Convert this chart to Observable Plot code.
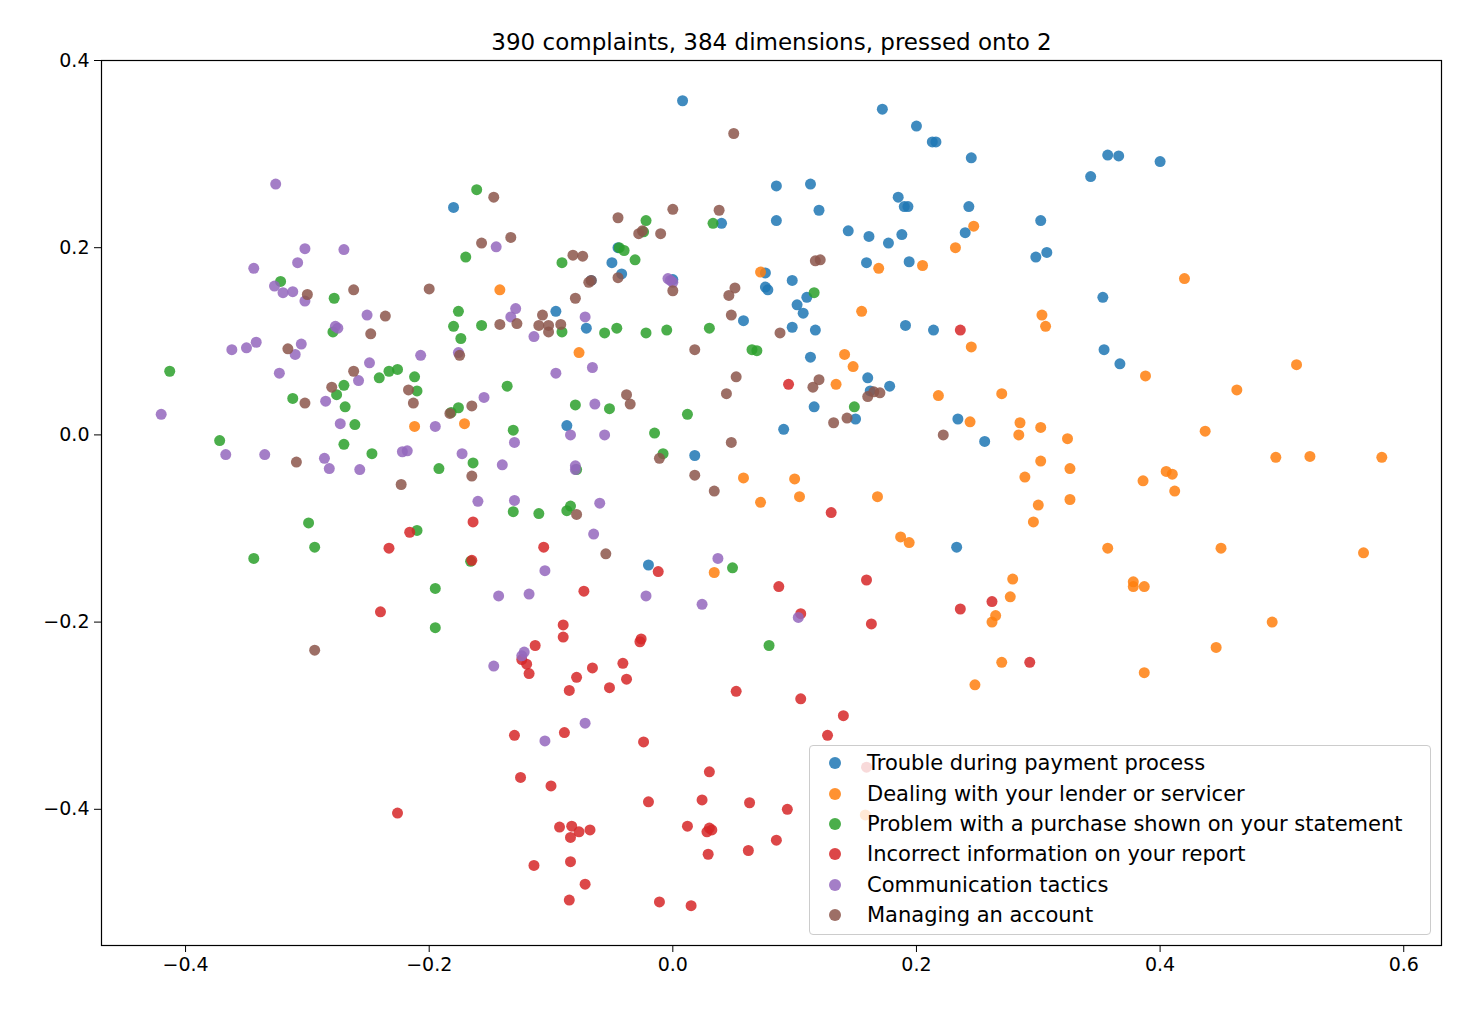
<!DOCTYPE html>
<html><head><meta charset="utf-8">
<script src="https://cdn.jsdelivr.net/npm/d3@7"></script>
<script src="https://cdn.jsdelivr.net/npm/@observablehq/plot@0.6"></script>
<style>
body{margin:0;background:#fff;font-family:"DejaVu Sans",sans-serif;}
#wrap{position:relative;width:1460px;height:1010px;}
#legend{position:absolute;left:809px;top:745px;width:622px;height:190px;border:1px solid #ccc;border-radius:4px;background:rgba(255,255,255,0.8);box-sizing:border-box;padding:2px 0 0 19px;font-size:21px;white-space:nowrap;}
#legend div{height:30.4px;display:flex;align-items:center;}
#legend span.d{display:inline-block;width:12px;height:12px;border-radius:50%;margin-right:26px;opacity:0.85}
svg text{fill:#000}
</style></head><body><div id="wrap"><div id="chart"></div><div id="legend"></div></div>
<script>
const categories=["Trouble during payment process","Dealing with your lender or servicer","Problem with a purchase shown on your statement","Incorrect information on your report","Communication tactics","Managing an account"];
const colors=["#1f77b4","#ff7f0e","#2ca02c","#d62728","#9467bd","#8c564b"];
const xTicks=[-0.4,-0.2,0.0,0.2,0.4,0.6];
const yTicks=[-0.4,-0.2,0.0,0.2,0.4];
const payment=[[0.008,0.357],[0.172,0.348],[0.2,0.33],[0.213,0.313],[0.216,0.313],[0.245,0.296],[0.357,0.299],[0.366,0.298],[0.4,0.292],[0.343,0.276],[0.085,0.266],[0.113,0.268],[0.185,0.254],[0.19,0.244],[0.193,0.244],[0.243,0.244],[-0.18,0.243],[0.12,0.24],[0.302,0.229],[0.085,0.229],[0.04,0.226],[0.144,0.218],[0.188,0.214],[0.24,0.216],[0.161,0.212],[0.177,0.205],[-0.045,0.2],[0.298,0.19],[0.307,0.195],[0.159,0.184],[0.194,0.185],[-0.05,0.184],[0.098,0.165],[0.0,0.166],[-0.067,0.165],[0.076,0.173],[0.076,0.158],[0.078,0.155],[-0.042,0.172],[0.11,0.147],[0.353,0.147],[0.102,0.139],[0.107,0.13],[-0.096,0.132],[0.058,0.122],[0.191,0.117],[0.214,0.112],[0.098,0.115],[0.117,0.112],[-0.071,0.114],[0.354,0.091],[0.367,0.076],[0.113,0.083],[0.16,0.061],[0.178,0.052],[0.162,0.047],[0.116,0.03],[0.15,0.017],[0.234,0.017],[0.091,0.006],[-0.087,0.01],[0.256,-0.007],[0.018,-0.022],[-0.02,-0.139],[0.233,-0.12]];
const lender=[[0.247,0.223],[0.232,0.2],[0.205,0.181],[0.169,0.178],[0.072,0.174],[0.42,0.167],[-0.142,0.155],[0.155,0.132],[0.303,0.128],[0.306,0.116],[0.245,0.094],[-0.077,0.088],[0.141,0.086],[0.512,0.075],[0.148,0.073],[0.388,0.063],[0.134,0.054],[0.463,0.048],[0.27,0.044],[0.218,0.042],[0.244,0.014],[0.285,0.013],[-0.171,0.012],[-0.212,0.009],[0.302,0.008],[0.437,0.004],[0.284,0.0],[0.324,-0.004],[0.405,-0.039],[0.41,-0.042],[0.326,-0.036],[0.302,-0.028],[0.289,-0.045],[0.386,-0.049],[0.1,-0.047],[0.058,-0.046],[0.495,-0.024],[0.523,-0.023],[0.582,-0.024],[0.412,-0.06],[0.168,-0.066],[0.104,-0.066],[0.072,-0.072],[0.3,-0.075],[0.326,-0.069],[0.296,-0.093],[0.187,-0.109],[0.194,-0.115],[0.357,-0.121],[0.45,-0.121],[0.567,-0.126],[0.034,-0.147],[0.279,-0.154],[0.378,-0.157],[0.378,-0.162],[0.387,-0.162],[0.277,-0.173],[0.265,-0.193],[0.262,-0.2],[0.492,-0.2],[0.446,-0.227],[0.27,-0.243],[0.387,-0.254],[0.248,-0.267],[0.158,-0.406]];
const purchase=[[-0.161,0.262],[0.033,0.226],[-0.022,0.229],[-0.024,0.217],[-0.044,0.2],[-0.04,0.197],[-0.031,0.187],[-0.17,0.19],[-0.091,0.184],[-0.322,0.164],[0.116,0.152],[-0.278,0.146],[-0.176,0.132],[-0.157,0.117],[-0.18,0.116],[-0.046,0.114],[-0.056,0.109],[0.03,0.114],[-0.005,0.112],[-0.022,0.109],[-0.091,0.11],[-0.279,0.11],[-0.174,0.103],[0.065,0.091],[0.069,0.09],[-0.413,0.068],[-0.233,0.068],[-0.226,0.07],[-0.212,0.062],[-0.241,0.061],[-0.136,0.052],[-0.27,0.053],[-0.276,0.043],[-0.21,0.047],[-0.312,0.039],[-0.269,0.03],[-0.176,0.029],[-0.182,0.024],[-0.052,0.028],[-0.08,0.032],[0.012,0.022],[0.149,0.03],[-0.261,0.011],[-0.131,0.005],[-0.015,0.002],[-0.372,-0.006],[-0.27,-0.01],[-0.247,-0.02],[-0.008,-0.02],[-0.164,-0.03],[-0.192,-0.036],[-0.079,-0.037],[-0.131,-0.082],[-0.11,-0.084],[-0.084,-0.076],[-0.087,-0.081],[-0.299,-0.094],[-0.21,-0.102],[-0.294,-0.12],[-0.166,-0.135],[-0.344,-0.132],[0.049,-0.142],[-0.195,-0.164],[-0.195,-0.206],[0.079,-0.225]];
const report=[[0.236,0.112],[0.095,0.054],[0.13,-0.083],[-0.164,-0.093],[-0.216,-0.104],[-0.233,-0.121],[-0.106,-0.12],[-0.165,-0.134],[-0.012,-0.146],[0.159,-0.155],[0.087,-0.162],[-0.073,-0.167],[0.262,-0.178],[0.236,-0.186],[-0.24,-0.189],[0.105,-0.191],[0.163,-0.202],[-0.09,-0.203],[-0.09,-0.216],[-0.113,-0.225],[-0.026,-0.218],[-0.027,-0.221],[-0.124,-0.24],[-0.12,-0.245],[-0.041,-0.244],[-0.066,-0.249],[0.293,-0.243],[-0.118,-0.255],[-0.079,-0.259],[-0.038,-0.261],[-0.052,-0.27],[-0.085,-0.273],[0.052,-0.274],[0.105,-0.282],[0.14,-0.3],[-0.13,-0.321],[0.127,-0.321],[-0.024,-0.328],[-0.089,-0.318],[0.159,-0.355],[0.03,-0.36],[-0.125,-0.366],[-0.1,-0.375],[-0.02,-0.392],[0.024,-0.39],[0.063,-0.393],[0.094,-0.4],[-0.226,-0.404],[0.012,-0.418],[0.03,-0.42],[0.032,-0.422],[0.028,-0.424],[-0.068,-0.422],[-0.077,-0.424],[-0.093,-0.419],[-0.083,-0.418],[0.085,-0.433],[-0.084,-0.43],[0.062,-0.444],[0.029,-0.448],[-0.084,-0.456],[-0.114,-0.46],[-0.072,-0.48],[-0.085,-0.497],[-0.011,-0.499],[0.015,-0.503]];
const tactics=[[-0.326,0.268],[-0.302,0.199],[-0.27,0.198],[-0.145,0.201],[-0.344,0.178],[-0.308,0.184],[-0.327,0.159],[-0.32,0.152],[-0.312,0.153],[-0.302,0.143],[-0.004,0.167],[-0.002,0.165],[0.0,0.163],[-0.129,0.135],[-0.251,0.128],[-0.133,0.126],[-0.072,0.126],[-0.277,0.116],[-0.275,0.114],[-0.114,0.105],[-0.342,0.099],[-0.305,0.097],[-0.362,0.091],[-0.35,0.093],[-0.31,0.086],[-0.176,0.088],[-0.207,0.085],[-0.249,0.077],[-0.066,0.072],[-0.096,0.066],[-0.323,0.066],[-0.258,0.058],[-0.155,0.04],[-0.285,0.036],[-0.273,0.012],[-0.064,0.033],[-0.42,0.022],[-0.195,0.009],[-0.084,0.0],[-0.056,0.0],[-0.13,-0.008],[-0.367,-0.021],[-0.335,-0.021],[-0.222,-0.018],[-0.218,-0.017],[-0.173,-0.02],[-0.286,-0.025],[-0.282,-0.036],[-0.257,-0.037],[-0.14,-0.032],[-0.08,-0.033],[-0.08,-0.037],[-0.16,-0.071],[-0.13,-0.07],[-0.06,-0.073],[-0.065,-0.106],[0.037,-0.132],[-0.105,-0.145],[-0.143,-0.172],[-0.118,-0.17],[-0.022,-0.172],[0.024,-0.181],[0.103,-0.195],[-0.122,-0.232],[-0.124,-0.236],[-0.147,-0.247],[-0.072,-0.308],[-0.105,-0.327]];
const account=[[0.05,0.322],[-0.147,0.254],[0.0,0.241],[0.038,0.24],[-0.045,0.232],[-0.133,0.211],[-0.157,0.205],[-0.01,0.215],[-0.028,0.215],[-0.025,0.218],[-0.082,0.192],[-0.074,0.191],[0.117,0.186],[0.121,0.187],[-0.067,0.165],[-0.069,0.163],[-0.045,0.168],[-0.262,0.155],[-0.2,0.156],[-0.3,0.15],[0.051,0.157],[0.046,0.149],[0.0,0.154],[-0.08,0.146],[-0.236,0.127],[-0.107,0.128],[-0.128,0.119],[-0.142,0.118],[-0.11,0.117],[-0.102,0.117],[-0.092,0.118],[0.048,0.128],[-0.102,0.11],[-0.248,0.108],[0.088,0.109],[-0.316,0.092],[-0.175,0.085],[0.018,0.091],[-0.262,0.068],[0.052,0.062],[0.12,0.059],[0.115,0.051],[-0.28,0.051],[-0.217,0.048],[0.044,0.044],[0.16,0.041],[0.165,0.046],[0.17,0.045],[-0.038,0.043],[-0.302,0.034],[-0.213,0.034],[-0.035,0.033],[-0.165,0.031],[-0.183,0.023],[0.132,0.013],[0.143,0.018],[0.222,0.0],[0.048,-0.008],[-0.309,-0.029],[-0.011,-0.025],[-0.165,-0.044],[0.018,-0.043],[-0.223,-0.053],[0.034,-0.06],[-0.079,-0.085],[-0.055,-0.127],[-0.294,-0.23]];
const series=[payment,lender,purchase,report,tactics,account];
const data=series.flatMap((s,i)=>s.map(([x,y])=>({x,y,c:categories[i]})));
const fmt=d=>d3.format(".1f")(d);
const plot=Plot.plot({
  width:1460,height:1010,marginLeft:101,marginRight:19,marginTop:60,marginBottom:65,
  style:{fontFamily:"DejaVu Sans, sans-serif",fontSize:"19px",color:"#000",background:"#fff"},
  x:{domain:[-0.469,0.631],label:null},
  y:{domain:[-0.5455,0.4],label:null},
  color:{domain:categories,range:colors},
  marks:[
    Plot.frame({stroke:"#000",strokeWidth:1.2}),
    Plot.dot(data,{x:"x",y:"y",fill:"c",r:5.5,fillOpacity:0.85}),
    Plot.axisX({ticks:xTicks,tickFormat:fmt,label:null,fontSize:19,tickSize:7,tickPadding:5,strokeOpacity:1}),
    Plot.axisY({ticks:yTicks,tickFormat:fmt,label:null,fontSize:19,tickSize:7,tickPadding:5,strokeOpacity:1}),
    Plot.text(["390 complaints, 384 dimensions, pressed onto 2"],{frameAnchor:"top",dy:-27,fontSize:23})
  ]
});
document.getElementById("chart").appendChild(plot);
const lg=document.getElementById("legend");
categories.forEach((c,i)=>{const d=document.createElement("div");d.innerHTML=`<span class="d" style="background:${colors[i]}"></span>${c}`;lg.appendChild(d);});
</script></body></html>
